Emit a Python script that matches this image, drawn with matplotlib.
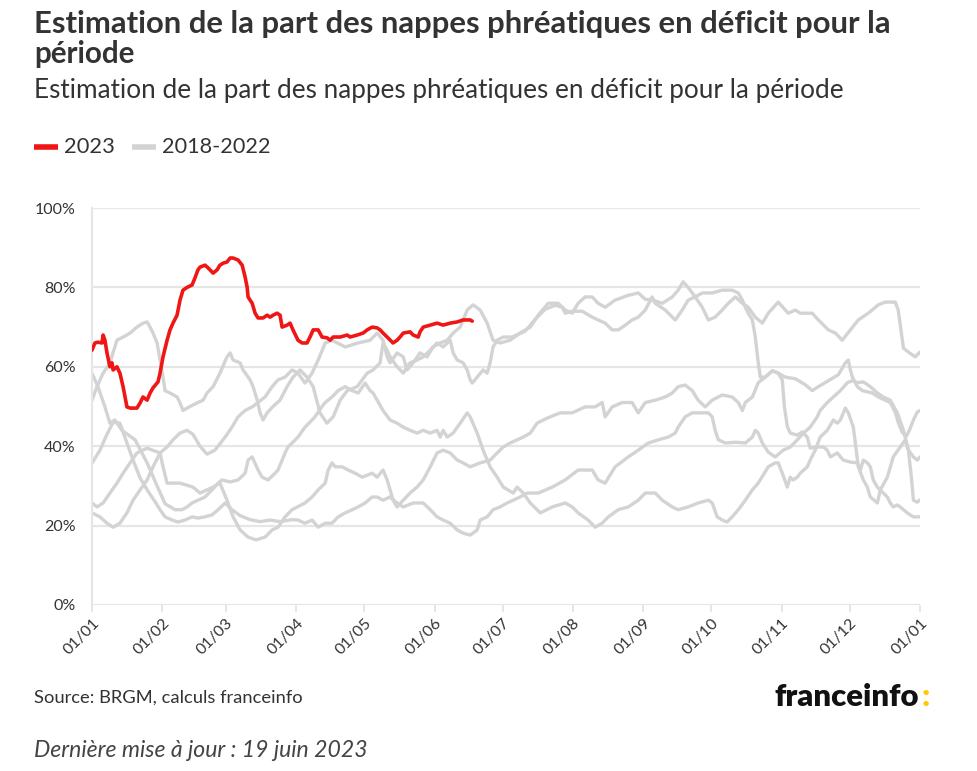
import matplotlib
matplotlib.use('Agg')
import matplotlib.pyplot as plt
from matplotlib.lines import Line2D

W, H = 978, 771
FONT = ['Lato', 'DejaVu Sans']
plt.rcParams['font.family'] = FONT

# ---------------- data ----------------
title_l1 = "Estimation de la part des nappes phréatiques en déficit pour la"
title_l2 = "période"
subtitle = "Estimation de la part des nappes phréatiques en déficit pour la période"
source = "Source: BRGM, calculs franceinfo"
update = "Dernière mise à jour : 19 juin 2023"
legend_labels = ["2023", "2018-2022"]

month_days = [0, 31, 59, 90, 120, 151, 181, 212, 243, 273, 304, 334, 365]
month_labels = ["01/01", "01/02", "01/03", "01/04", "01/05", "01/06", "01/07",
                "01/08", "01/09", "01/10", "01/11", "01/12", "01/01"]
y_ticks = [0, 20, 40, 60, 80, 100]
y_labels = ["0%", "20%", "40%", "60%", "80%", "100%"]

# (day of year, % of aquifers in deficit)
year_2023 = [(0, 64.2), (1.3, 66), (2.6, 66.2), (4.4, 66), (4.9, 68), (5.7, 66.7), (6.6, 63.5),
             (7.9, 60), (8.8, 61), (9.3, 59.2), (11.0, 60), (12.3, 58.4), (13.7, 55), (15.4, 49.9),
             (16.8, 49.6), (19.8, 49.6), (21.2, 50.9), (22.5, 52.4), (24.3, 51.6), (25.6, 53.4),
             (26.9, 54.7), (29.1, 56.2), (30.0, 58.4), (31.3, 62.5), (33.1, 66.7), (34.4, 69.3),
             (35.7, 71), (37.5, 73), (38.8, 76.8), (40.1, 79.3), (41.9, 80), (44.1, 80.6),
             (45.4, 82.4), (46.7, 84.4), (47.6, 85.1), (49.8, 85.6), (51.2, 84.9), (53.4, 83.6),
             (55.1, 84.4), (56.4, 85.6), (57.8, 86.1), (59.5, 86.4), (60.9, 87.4), (62.2, 87.4),
             (64.4, 86.9), (66.2, 85.6), (67.5, 82.6), (68.4, 80), (68.8, 77.6), (70.6, 76),
             (71.9, 73.5), (73.2, 72.3), (75.4, 72.3), (77.2, 73), (78.5, 72.5), (79.8, 73),
             (81.6, 73.5), (82.9, 73), (83.8, 70), (86.0, 70.5), (87.3, 71), (88.6, 69.3),
             (90.8, 66.7), (92.6, 66), (94.8, 66), (96.1, 67.5), (97.5, 69.3), (99.7, 69.3),
             (101.4, 67.5), (103.6, 67.3), (105.0, 66.7), (106.3, 67.5), (109.4, 67.5), (112.5, 68),
             (113.8, 67.5), (116.9, 68), (119.5, 68.5), (121.3, 69.3), (123.5, 70), (125.7, 69.8),
             (127.0, 69.3), (128.3, 68.5), (130.1, 67.5), (132.7, 66), (134.5, 66.7), (135.8, 67.5),
             (137.2, 68.5), (140.2, 68.8), (141.6, 68), (143.8, 67.5), (144.6, 68.8), (146.0, 70),
             (149.1, 70.5), (152.1, 71), (154.8, 70.5), (157.9, 71), (161.0, 71.3), (163.6, 71.8),
             (166.7, 71.8), (167.6, 71.5)]

past_a = [(0, 51.6), (2.2, 55), (4.9, 58.4), (7.9, 61), (11.0, 66.7), (13.7, 67.5), (16.8, 68.5),
          (19.8, 70), (22.5, 71), (24.3, 71.3), (25.6, 70), (26.9, 68.5), (28.7, 66), (30.0, 61.7),
          (31.3, 57.4), (32.2, 54), (34.4, 53.4), (37.5, 52.4), (38.8, 50.9), (40.1, 49), (43.2, 50),
          (46.3, 50.9), (49.0, 51.6), (50.7, 53.4), (53.4, 55), (56.4, 58.4), (59.5, 62.5),
          (60.9, 63.5), (62.2, 61.7), (65.3, 61), (66.6, 59.2), (69.7, 56.7), (71.0, 55),
          (72.8, 51.6), (74.1, 48.4), (75.4, 46.6), (77.2, 48.4), (79.8, 50), (82.9, 51.6),
          (86.0, 55), (88.6, 57.4), (91.7, 59.2), (94.8, 57.4), (97.5, 55), (100.5, 48.4),
          (103.6, 45.8), (106.3, 47.4), (109.4, 51.6), (112.5, 54), (116.9, 55), (121.3, 58.4),
          (123.9, 59.2), (127.0, 61), (128.3, 66), (130.1, 64.2), (131.4, 62.5), (134.5, 60),
          (137.2, 58.4), (138.9, 60), (140.2, 61), (143.3, 61.7), (146.0, 62.5), (149.1, 64.2),
          (152.1, 66), (154.8, 65), (157.9, 66.7), (159.2, 63.5), (161.0, 61.7), (163.6, 61),
          (165.4, 59.2), (166.7, 56.7), (167.6, 55.9), (169.8, 57.4), (172.4, 59.2), (174.2, 58.4),
          (175.5, 61), (176.8, 65), (178.6, 66.7), (181.3, 67.5), (185.2, 67.5), (191.0, 69),
          (195.4, 72), (199.8, 74.5), (204.2, 75.5), (207.3, 75), (208.6, 73.5), (211.7, 74),
          (216.1, 74), (220.5, 72.5), (223.1, 71.8), (226.2, 71), (229.3, 69.3), (232.0, 69.3),
          (235.1, 70.5), (238.1, 71.8), (240.8, 72.5), (243.9, 74.3), (246.9, 77.6), (248.3, 76),
          (252.7, 74.3), (257.1, 71.8), (260.2, 74.3), (262.8, 76.8), (265.9, 77.6), (269.0, 75),
          (271.7, 71.8), (274.7, 72.5), (277.8, 74.3), (280.5, 76), (283.6, 77.6), (286.7, 76),
          (289.3, 75), (292.4, 72.5), (295.5, 71), (298.1, 73.5), (302.5, 76.3), (306.9, 73.5),
          (310.0, 74.3), (312.2, 73.5), (317.5, 73.5), (320.2, 71.8), (324.6, 69.3), (327.7, 68.5),
          (330.7, 66.7), (334.3, 69.3), (337.8, 71.8), (342.2, 73.5), (346.6, 75.6), (349.7, 76.3),
          (354.1, 76.3), (355.4, 74.3), (357.7, 64.7), (359.9, 63.7), (362.9, 62.5), (365, 63.7)]

past_b = [(0, 23.2), (3.5, 22.2), (6.6, 20.6), (9.3, 19.6), (12.3, 20.6), (15.4, 23.2), (18.1, 26.4),
          (21.2, 29), (24.3, 31.5), (26.9, 34.8), (30.0, 38.3), (33.1, 39.8), (35.7, 41.6),
          (38.8, 43.3), (41.9, 44), (44.5, 43), (47.6, 40), (50.7, 38), (54.2, 39), (58.7, 42.3),
          (61.7, 44.8), (64.4, 47.4), (67.5, 49), (70.6, 49.9), (73.2, 51), (76.3, 52.4), (79.4, 55),
          (82.0, 56.7), (85.1, 57.4), (88.2, 59.2), (90.8, 58.4), (93.9, 55.9), (97.0, 58.4),
          (99.7, 61.7), (102.8, 66), (105.8, 66.7), (111.6, 65), (117.3, 66), (122.6, 66.7),
          (125.7, 68.5), (128.3, 66.7), (130.1, 62.5), (131.4, 61), (134.5, 63.5), (137.2, 62.5),
          (138.9, 59.2), (141.6, 61), (144.6, 63.5), (147.7, 62.5), (150.4, 65), (153.5, 66),
          (156.6, 66.7), (159.2, 68.5), (162.3, 70), (165.4, 74.3), (168.0, 75.6), (171.1, 74.3),
          (174.2, 71), (176.8, 66.7), (179.9, 66), (184.3, 66.7), (188.7, 68.5), (193.2, 70),
          (196.7, 73), (201.1, 76), (205.5, 76), (208.6, 74.3), (211.7, 73.5), (214.3, 76),
          (217.4, 77.6), (220.5, 77.6), (223.1, 76), (226.2, 75), (230.6, 76.8), (236.4, 78),
          (240.8, 78.6), (243.9, 77), (246.9, 76.8), (251.4, 76), (255.8, 77.6), (258.4, 79.3),
          (260.6, 81.4), (262.8, 80), (264.6, 78.6), (265.9, 77.6), (269.0, 78.6), (273.4, 78.6),
          (277.8, 79.3), (282.2, 79.3), (284.9, 78.6), (286.7, 76.8), (288.0, 75), (289.3, 73.5),
          (291.1, 71.8), (292.4, 67.5), (293.7, 61), (294.6, 57.4), (296.8, 57.4), (299.9, 59),
          (302.5, 58.4), (304.3, 56.7), (305.2, 50), (306.5, 45), (307.8, 43.3), (310.9, 42.8),
          (313.1, 43.6), (315.3, 42.3), (316.6, 39.5), (319.7, 39.8), (322.4, 39.8), (324.1, 39),
          (325.5, 37.3), (328.5, 38.3), (331.2, 36.5), (334.3, 36), (337.4, 35.8), (338.7, 34),
          (340.0, 36.5), (341.8, 35.8), (343.1, 34.8), (344.4, 31.5), (346.2, 29.7), (348.8, 28.2),
          (350.6, 27.2), (351.9, 25.7), (353.2, 24.7), (355.0, 25.2), (356.3, 24.7), (357.7, 24),
          (359.4, 23.2), (360.7, 22.7), (362.1, 22.2), (365, 22.2)]

past_c = [(0, 58.4), (2.6, 55), (5.7, 49.9), (7.9, 45.8), (10.1, 46.6), (13.2, 44), (19.0, 41.6),
          (24.3, 35.8), (28.7, 30), (32.2, 25.5), (36.6, 24), (39.7, 24), (41.9, 24.7), (44.1, 25.7),
          (46.7, 26.4), (49.8, 27.2), (52.9, 29), (55.6, 30.7), (57.3, 31.5), (60.9, 31),
          (64.4, 31.5), (67.5, 33.2), (68.8, 36.5), (70.6, 37.3), (73.2, 34), (75.0, 32.2),
          (77.6, 31.5), (80.7, 33.2), (82.0, 34), (85.1, 38.3), (86.4, 39.8), (88.2, 40.8),
          (90.8, 42.3), (93.9, 44.8), (97.0, 46.6), (98.3, 47.4), (101.4, 50), (102.8, 51),
          (105.8, 52.4), (108.5, 54), (111.6, 55), (114.7, 54), (117.3, 53.4), (120.4, 55.9),
          (122.6, 54), (123.9, 53.4), (125.7, 51.6), (128.3, 49), (131.4, 46.6), (134.5, 45.8),
          (137.2, 44.8), (140.2, 44), (143.3, 43.3), (146.0, 44), (149.1, 43.3), (152.1, 44),
          (153.5, 42.3), (154.8, 44), (156.6, 42.3), (159.2, 43.3), (162.3, 45.8), (165.4, 48.4),
          (166.7, 47.4), (169.8, 43.3), (172.4, 39), (175.5, 34.8), (178.6, 32.2), (181.3, 29.7),
          (185.7, 28.2), (187.4, 29.7), (190.1, 28.2), (193.2, 25.7), (196.2, 24), (197.6, 23.2),
          (202.9, 24.7), (208.6, 25.7), (211.7, 24.7), (214.3, 23.2), (218.7, 21.4), (221.8, 19.6),
          (224.9, 20.6), (227.6, 22.2), (232.0, 24), (236.4, 24.7), (240.8, 26.4), (243.9, 28.2),
          (248.3, 28.2), (251.4, 26.4), (255.8, 24.7), (258.4, 24), (262.8, 24.7), (267.2, 25.7),
          (271.7, 26.4), (273.4, 25.7), (275.6, 22.2), (277.8, 21.4), (280.0, 20.9), (282.2, 22.2),
          (284.9, 24), (288.0, 26.4), (291.1, 29), (293.7, 30.7), (298.1, 34.8), (301.2, 35.8),
          (302.5, 35.8), (304.3, 33.2), (306.5, 29.7), (307.8, 32.2), (309.1, 31.5), (310.9, 32.2),
          (312.2, 33.2), (315.3, 34.8), (316.6, 36.5), (318.8, 39), (321.0, 42.3), (324.1, 44),
          (326.8, 46.6), (328.5, 45.8), (329.9, 46.6), (332.1, 49.6), (333.4, 48.4), (335.6, 44.8),
          (336.5, 40.8), (337.8, 34.8), (340.0, 31.5), (341.8, 29.7), (343.1, 27.2), (346.2, 25.7),
          (347.5, 29), (350.6, 32.2), (353.2, 37.3), (356.3, 39.8), (358.5, 41.6), (359.9, 39),
          (362.1, 37.3), (363.8, 36.5), (365, 37.3)]

past_d = [(0, 35.7), (3.5, 39), (6.6, 43), (9.3, 46), (12.3, 45.8), (15.9, 40), (18.1, 36.5),
          (21.2, 32), (24.3, 29), (27.8, 26), (30.0, 24), (32.2, 22.2), (35.3, 21.4), (37.9, 20.9),
          (41.0, 21.4), (44.1, 22.2), (46.7, 21.9), (49.8, 22.2), (52.9, 22.7), (55.6, 24),
          (58.7, 25.7), (61.7, 24), (65.3, 22.5), (69.7, 21.5), (74.1, 21), (78.5, 21.4), (82.9, 21),
          (88.2, 21.5), (90.8, 21.4), (93.9, 20.6), (97.0, 21.4), (99.7, 19.6), (102.8, 20.6),
          (105.8, 20.6), (108.5, 22.2), (111.6, 23.2), (114.7, 24), (117.3, 24.7), (120.4, 25.7),
          (123.5, 27.2), (125.7, 27.2), (128.3, 26.4), (131.4, 27.2), (134.5, 25.7), (137.2, 24.7),
          (141.6, 25.7), (146.0, 25.7), (149.1, 24), (152.1, 22.2), (154.8, 21.4), (157.9, 20.6),
          (161.0, 18.9), (163.6, 18.1), (166.7, 17.6), (169.8, 18.9), (171.1, 21.4), (174.2, 22.2),
          (176.8, 24), (179.9, 24.7), (183.0, 25.7), (185.7, 26.4), (188.7, 27.2), (191.8, 28.2),
          (196.7, 28.2), (202.9, 29.7), (208.6, 31.5), (214.3, 34), (220.5, 34), (223.1, 31.5),
          (226.2, 30.7), (230.6, 34.8), (236.4, 37.3), (240.8, 39), (245.2, 40.8), (249.6, 41.6),
          (254.0, 42.3), (257.1, 43.3), (258.4, 44.8), (261.5, 47.4), (264.6, 48.4), (271.7, 48.4),
          (273.4, 47.4), (274.7, 44), (276.1, 41.6), (279.2, 40.8), (283.6, 41), (288.0, 40.8),
          (291.1, 42.3), (292.4, 44), (293.7, 43.3), (295.5, 40.8), (298.1, 38.5), (301.2, 37.3),
          (304.7, 39), (307.8, 39.8), (310.9, 41.6), (313.6, 43.3), (316.6, 44.8), (319.7, 47.4),
          (321.0, 49), (324.1, 51), (326.8, 52.4), (329.9, 54), (333.0, 56), (335.2, 56.5),
          (337.4, 56), (340.0, 56.2), (343.1, 55), (346.2, 53.4), (348.8, 52.4), (351.9, 51.6),
          (355.0, 48.4), (357.7, 44), (359.9, 39), (361.2, 32.2), (362.1, 26.4), (363.8, 25.9),
          (365, 26.5)]

past_e = [(0, 25.7), (2.2, 24.7), (4.9, 25.7), (7.9, 28.2), (11.0, 30.7), (13.7, 33.2), (16.8, 35.8),
          (19.8, 38.3), (24.3, 39.5), (30.0, 38.3), (31.3, 34.8), (33.1, 30.7), (38.8, 30.7),
          (44.5, 29.7), (47.6, 28.2), (53.4, 29.7), (56.4, 30.7), (59.5, 26.4), (62.2, 22.2),
          (65.3, 18.9), (68.8, 17.1), (72.3, 16.4), (76.3, 17.1), (79.4, 18.9), (82.0, 19.6),
          (85.1, 22.2), (88.2, 24), (93.9, 25.7), (97.0, 27.2), (99.7, 29), (102.8, 30.7),
          (104.1, 34), (105.8, 35.8), (107.2, 34.8), (110.3, 34.8), (112.9, 34), (116.0, 33.2),
          (119.1, 32.2), (123.5, 33.2), (125.7, 32.2), (128.3, 34), (130.1, 31.5), (131.4, 29),
          (132.7, 26.4), (134.5, 24.7), (137.2, 26.4), (140.2, 28.2), (143.3, 29.7), (146.0, 31.5),
          (149.1, 34.8), (152.1, 38.3), (154.8, 39), (157.9, 38.3), (161.0, 36.5), (163.6, 35.8),
          (166.7, 34.8), (171.1, 35.8), (175.5, 36.5), (178.6, 38.3), (181.3, 39.8), (184.3, 40.8),
          (187.4, 41.6), (190.1, 42.3), (193.2, 43.3), (196.2, 45.8), (198.9, 46.6), (202.0, 47.4),
          (206.4, 48.4), (211.7, 48.4), (217.4, 49.9), (221.8, 49.9), (224.9, 51), (226.2, 47.4),
          (229.3, 49.9), (233.7, 51), (238.1, 51), (240.8, 48.4), (243.9, 51), (248.3, 51.6),
          (252.7, 52.4), (255.8, 53.4), (258.4, 55), (261.5, 55.4), (264.6, 54), (267.2, 51.6),
          (270.3, 49.9), (273.4, 51.6), (277.8, 52.9), (282.2, 52.4), (284.9, 51), (286.7, 49),
          (288.0, 51), (291.1, 52.4), (293.7, 56), (296.8, 57.4), (299.9, 59), (302.5, 58.4),
          (305.6, 57.4), (310.0, 57), (314.4, 55.5), (317.5, 54), (320.2, 55), (324.6, 56.5),
          (329.0, 58), (332.1, 61), (333.4, 61.7), (334.3, 59.2), (335.2, 57.4), (337.4, 55),
          (339.6, 54), (344.0, 53.4), (346.6, 52.4), (349.7, 51.6), (351.9, 51), (354.1, 48.5),
          (355.4, 46), (357.2, 43.5), (359.0, 42.5), (360.3, 44), (362.1, 46.6), (363.8, 48.6),
          (365, 49)]

past_years = [past_a, past_b, past_c, past_d, past_e]

# ---------------- style ----------------
RED = '#f01616'
GRAY = '#d3d3d3'
GRID = '#e6e6e6'
TXT = '#333333'

fig = plt.figure(figsize=(W / 100, H / 100), dpi=100)
fig.patch.set_facecolor('white')


def fx(x):
    return x / W


def fy(y):
    return 1 - y / H


ax = fig.add_axes([fx(92), fy(605), 828 / W, 397 / H])
for serie in past_years:
    d, v = zip(*serie)
    ax.plot(d, v, color=GRAY, lw=2.4, solid_joinstyle='round', solid_capstyle='round', zorder=2)
d, v = zip(*year_2023)
ax.plot(d, v, color=RED, lw=2.6, solid_joinstyle='round', solid_capstyle='round', zorder=3)

ax.set_xlim(0, 365)
ax.set_ylim(0, 100)
ax.set_yticks(y_ticks)
ax.set_yticklabels(y_labels)
ax.set_xticks(month_days)
ax.set_xticklabels(month_labels, rotation=45, ha='right', va='top', rotation_mode='anchor')
ax.grid(axis='y', color=GRID, lw=1.6, zorder=0)
ax.set_axisbelow(True)
for sp in ['top', 'right', 'bottom']:
    ax.spines[sp].set_visible(False)
ax.spines['left'].set_color(GRID)
ax.spines['left'].set_linewidth(1.6)
ax.tick_params(axis='y', length=0, pad=12, labelsize=11.5, labelcolor=TXT)
ax.tick_params(axis='x', length=5, width=1.4, color=GRID, labelsize=11.5, labelcolor=TXT, pad=3)
for t in ax.get_yticklabels():
    t.set_clip_on(False)

renderer = fig.canvas.get_renderer()


def fit_text(x, y, s, target_w, size=14, **kw):
    t = fig.text(fx(x), fy(y), s, fontsize=size, **kw)
    bb = t.get_window_extent(renderer)
    t.set_fontsize(size * target_w / bb.width)
    return t


fit_text(34, 33, title_l1, 863, weight='bold', color=TXT, va='baseline')
fit_text(34, 63, title_l2, 101, weight='bold', color=TXT, va='baseline')
fit_text(34, 98, subtitle, 809, color=TXT, va='baseline')

# legend
fig.add_artist(Line2D([fx(34), fx(58)], [fy(147), fy(147)], color=RED, lw=4, solid_capstyle='butt'))
fit_text(64, 153, legend_labels[0], 51, color=TXT, va='baseline')
fig.add_artist(Line2D([fx(132), fx(156)], [fy(147), fy(147)], color=GRAY, lw=4, solid_capstyle='butt'))
fit_text(162, 153, legend_labels[1], 109, color=TXT, va='baseline')

# footer
fit_text(34, 703, source, 269, color=TXT, va='baseline')
fit_text(34, 757, update, 334, color='#444444', style='italic', va='baseline')
logo = fit_text(775, 706, "franceinfo", 145, weight='heavy', color='#111111', va='baseline')
lb = logo.get_window_extent(renderer)
fig.text(fx(lb.x1 + 2), logo.get_position()[1], ":", fontsize=logo.get_fontsize(),
         weight='heavy', color='#ffc800', va='baseline')

fig.savefig('out.png', dpi=100, facecolor='white')
